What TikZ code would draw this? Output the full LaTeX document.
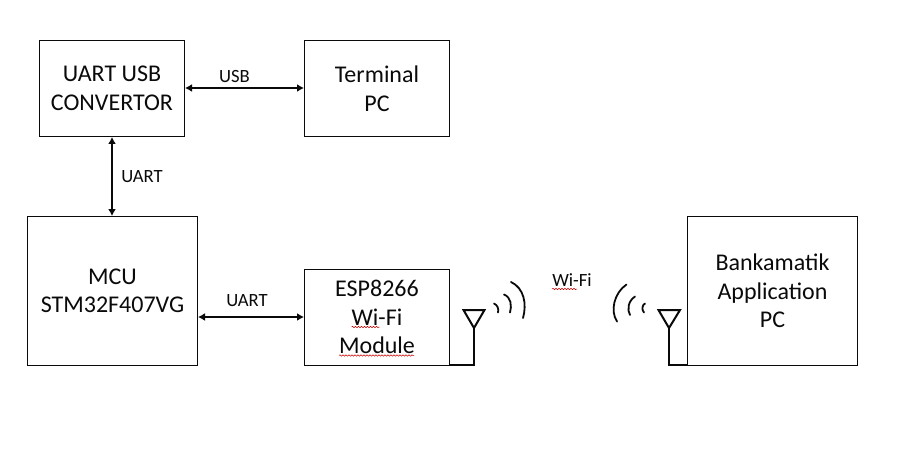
\documentclass[tikz,border=0pt]{standalone}
\usepackage{fontspec}
\setmainfont{Carlito}
\usetikzlibrary{arrows.meta,decorations.pathmorphing}
\definecolor{ink}{HTML}{0A0A0A}
\tikzset{
  blockbox/.style={draw=ink,line width=1pt,inner sep=0pt,align=center,font=\fontsize{24}{28.6}\selectfont,text=ink},
  linklabel/.style={inner sep=0pt,font=\fontsize{18.67}{22}\selectfont,text=ink},
  link/.style={draw=ink,line width=2pt,{Latex[length=7pt,width=8pt]}-{Latex[length=7pt,width=8pt]}},
  aerial/.style={draw=ink,line width=2pt,line join=miter},
  aerialbase/.style={draw=ink,line width=2.6pt,line cap=butt},
  wave/.style={draw=ink,line width=1.8pt,line cap=round},
  squiggle/.style={draw=red!80!black,line width=0.5pt,decorate,decoration={snake,amplitude=0.7pt,segment length=3pt}}
}
\begin{document}
\begin{tikzpicture}[x=1pt,y=-1pt]
\useasboundingbox (0,0) rectangle (915,449);
\fill[white] (0,0) rectangle (915,449);
\node[blockbox,minimum width=145pt,minimum height=96pt] (conv) at (112,88.5) {UART USB\\CONVERTOR};
\node[blockbox,minimum width=145pt,minimum height=96pt] (term) at (377,88.5) {Terminal\\PC};
\node[blockbox,minimum width=170pt,minimum height=148.5pt] (mcu) at (112.5,290.75) {MCU\\STM32F407VG};
\node[blockbox,minimum width=145pt,minimum height=95.5pt] (esp) at (377,317.25) {ESP8266\\Wi-Fi\\Module};
\node[blockbox,minimum width=170pt,minimum height=148.5pt] (bank) at (772.5,290.75) {Bankamatik\\Application\\PC};
\draw[link] ([yshift=.5pt]conv.east) -- ([yshift=.5pt]term.west);
\draw[link] (conv.south) -- (conv.south |- mcu.north);
\draw[link] ([yshift=.25pt]mcu.east |- esp.west) -- ([yshift=.25pt]esp.west);
\node[linklabel] (lusb) at (234.5,77) {USB};
\node[linklabel] (luart1) at (142,176.8) {UART};
\node[linklabel] (luart2) at (247,300.8) {UART};
\node[linklabel] (lwifi) at (572,280.5) {Wi-Fi};
% left antenna
\coordinate (la) at (474,328);
\coordinate (lb) at (474,365);
\draw[aerialbase] (esp.east |- lb) -- ([xshift=1pt]lb);
\draw[aerial] (lb) -- (la);
\draw[aerial] (la) -- (463.5,310) -- (484.5,310) -- cycle;
% right antenna
\coordinate (ra) at (669,328);
\coordinate (rb) at (669,365);
\draw[aerialbase] (bank.west |- rb) -- ([xshift=-1pt]rb);
\draw[aerial] (rb) -- (ra);
\draw[aerial] (ra) -- (658.5,310) -- (680,310) -- cycle;
% waves left
\draw[wave] (494,303.5) .. controls (497.5,305) and (499,309) .. (498,312.5);
\draw[wave] (504,294.5) .. controls (511,297) and (512,306) .. (510,312.5);
\draw[wave] (511,282) .. controls (524,288) and (527,304) .. (523,318);
% waves right
\draw[wave] (645,303.5) .. controls (642,305) and (641.5,310) .. (644,312.5);
\draw[wave] (635,296.5) .. controls (628,301) and (627,310) .. (630,315);
\draw[wave] (626.5,284.5) .. controls (614,293) and (610,311) .. (617,321.5);
% spelling marks
\draw[squiggle] (552,289) -- (577,289);
\draw[squiggle] (351.5,327) -- (379.5,327);
\draw[squiggle] (339,355.5) -- (414,355.5);
\end{tikzpicture}
\end{document}
